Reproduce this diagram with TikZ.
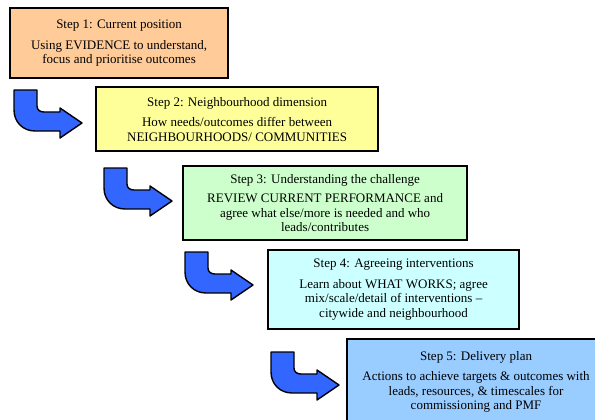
\documentclass[tikz,border=0pt]{standalone}
\usepackage{fontspec}
\setmainfont{Liberation Serif}
\usepackage{tikz}
\usetikzlibrary{calc}
\usetikzlibrary{positioning}
\definecolor{stepone}{HTML}{FFCC99}
\definecolor{steptwo}{HTML}{FFFF99}
\definecolor{stepthree}{HTML}{CCFFCC}
\definecolor{stepfour}{HTML}{CCFFFF}
\definecolor{stepfive}{HTML}{99CCFF}
\definecolor{arrowblue}{HTML}{3366FF}
\tikzstyle{stepbox} = [draw, line width=2.2pt, rectangle, anchor=north west,
    align=center, inner sep=0pt, font=\fontsize{13}{14.5}\selectfont]
\tikzstyle{turnarrow} = [draw=black, line width=1.4pt, fill=arrowblue, line join=round]
\tikzset{bendarrow/.pic={
    \draw[turnarrow] (0,0) -- (23,0) -- (23,16) .. controls (23,20) and (26,22) .. (30,22)
      -- (46,22) -- (46,18) -- (68,33) -- (46,48) -- (46,41) -- (21,41)
      .. controls (9,41) and (0,32) .. (0,20) -- cycle;
}}

\begin{document}
\begin{tikzpicture}[x=1pt, y=-1pt]
    \useasboundingbox (0,0) rectangle (595,420);
    % We start by placing the step blocks
    \node [stepbox, fill=stepone, minimum width=218pt, minimum height=70pt] (step1) at (9,7)
      {Step 1: Current position\\[6pt] Using EVIDENCE to understand,\\ focus and prioritise outcomes};
    \node [stepbox, fill=steptwo, minimum width=282pt, minimum height=64pt] (step2) at (95,86)
      {Step 2: Neighbourhood dimension\\[6pt] How needs/outcomes differ between\\ NEIGHBOURHOODS/ COMMUNITIES};
    \node [stepbox, fill=stepthree, minimum width=284pt, minimum height=74pt] (step3) at (182,165)
      {Step 3: Understanding the challenge\\[5pt] REVIEW CURRENT PERFORMANCE and\\ agree what else/more is needed and who\\ leads/contributes};
    \node [stepbox, fill=stepfour, minimum width=251pt, minimum height=79pt] (step4) at (267,249)
      {Step 4: Agreeing interventions\\[6pt] Learn about WHAT WORKS; agree\\ mix/scale/detail of interventions --\\ citywide and neighbourhood};
    \node [stepbox, fill=stepfive, minimum width=258pt, minimum height=86pt] (step5) at (346,338)
      {Step 5: Delivery plan\\[6pt] Actions to achieve targets \& outcomes with\\ leads, resources, \& timescales for\\ commissioning and PMF};

    % Then the bent arrows leading into each next step
    \pic at ($(step2.north west)+(-81,4)$) {bendarrow};
    \pic at ($(step3.north west)+(-78,3)$) {bendarrow};
    \pic at ($(step4.north west)+(-82,3)$) {bendarrow};
    \pic at ($(step5.north west)+(-75,14)$) {bendarrow};
\end{tikzpicture}
\end{document}
